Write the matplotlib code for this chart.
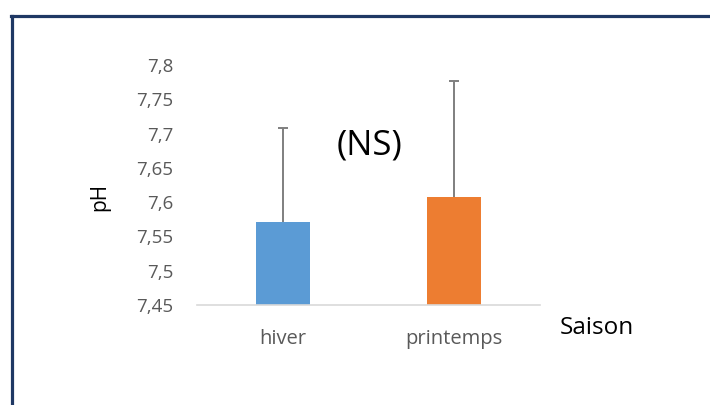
import numpy as np
import matplotlib.pyplot as plt
from matplotlib.lines import Line2D

plt.rcParams['font.family'] = ['Open Sans', 'DejaVu Sans']

saisons = ['hiver', 'printemps']
ph_moyen = [7.571, 7.607]
ph_ecart = [0.137, 0.170]
couleurs = ['#5B9BD5', '#ED7D31']
yticks = [7.45, 7.5, 7.55, 7.6, 7.65, 7.7, 7.75, 7.8]

W, H = 710, 405
fig = plt.figure(figsize=(W / 100, H / 100), dpi=100)
ax = fig.add_axes([197 / W, 100 / H, 343 / W, 240 / H])

x = np.arange(len(saisons))
moy = np.array(ph_moyen)
haut = moy + np.array(ph_ecart)
ax.bar(x, moy, width=0.315, color=couleurs, zorder=2)
# upper error bars only
ax.vlines(x, moy, haut, color='#7F7F7F', lw=1.4, zorder=3)
ax.hlines(haut, x - 0.03, x + 0.03, color='#7F7F7F', lw=1.4, zorder=3)

ax.set_xlim(-0.5, 1.5)
ax.set_ylim(7.45, 7.8)
ax.set_yticks(yticks)
ax.set_yticklabels([f'{v:g}'.replace('.', ',') for v in yticks])
ax.set_xticks(x)
ax.set_xticklabels(saisons)
ax.tick_params(axis='both', length=0, colors='#595959')
ax.tick_params(axis='y', pad=17, labelsize=13.5)
ax.tick_params(axis='x', pad=17, labelsize=14.5)

for s in ['top', 'right', 'left']:
    ax.spines[s].set_visible(False)
ax.spines['bottom'].set_color('#D9D9D9')
ax.spines['bottom'].set_linewidth(1.2)

fig.text(100 / W, 1 - 197 / H, 'pH', fontsize=15, color='black', rotation=90, va='center', ha='center')
fig.text(560 / W, 1 - 328 / H, 'Saison', fontsize=17.5, color='black', va='center', ha='left')
fig.text(369 / W, 1 - 146 / H, '(NS)', fontsize=25, color='black', va='center', ha='center')

# dark frame around the chart area (left and top edges)
fig.add_artist(Line2D([12 / W, 12 / W], [0, 1 - 16 / H], color='#1F3864', lw=2.3, transform=fig.transFigure))
fig.add_artist(Line2D([11 / W, 1], [1 - 16 / H, 1 - 16 / H], color='#1F3864', lw=2.3, transform=fig.transFigure))

fig.savefig('out.png', dpi=100)
